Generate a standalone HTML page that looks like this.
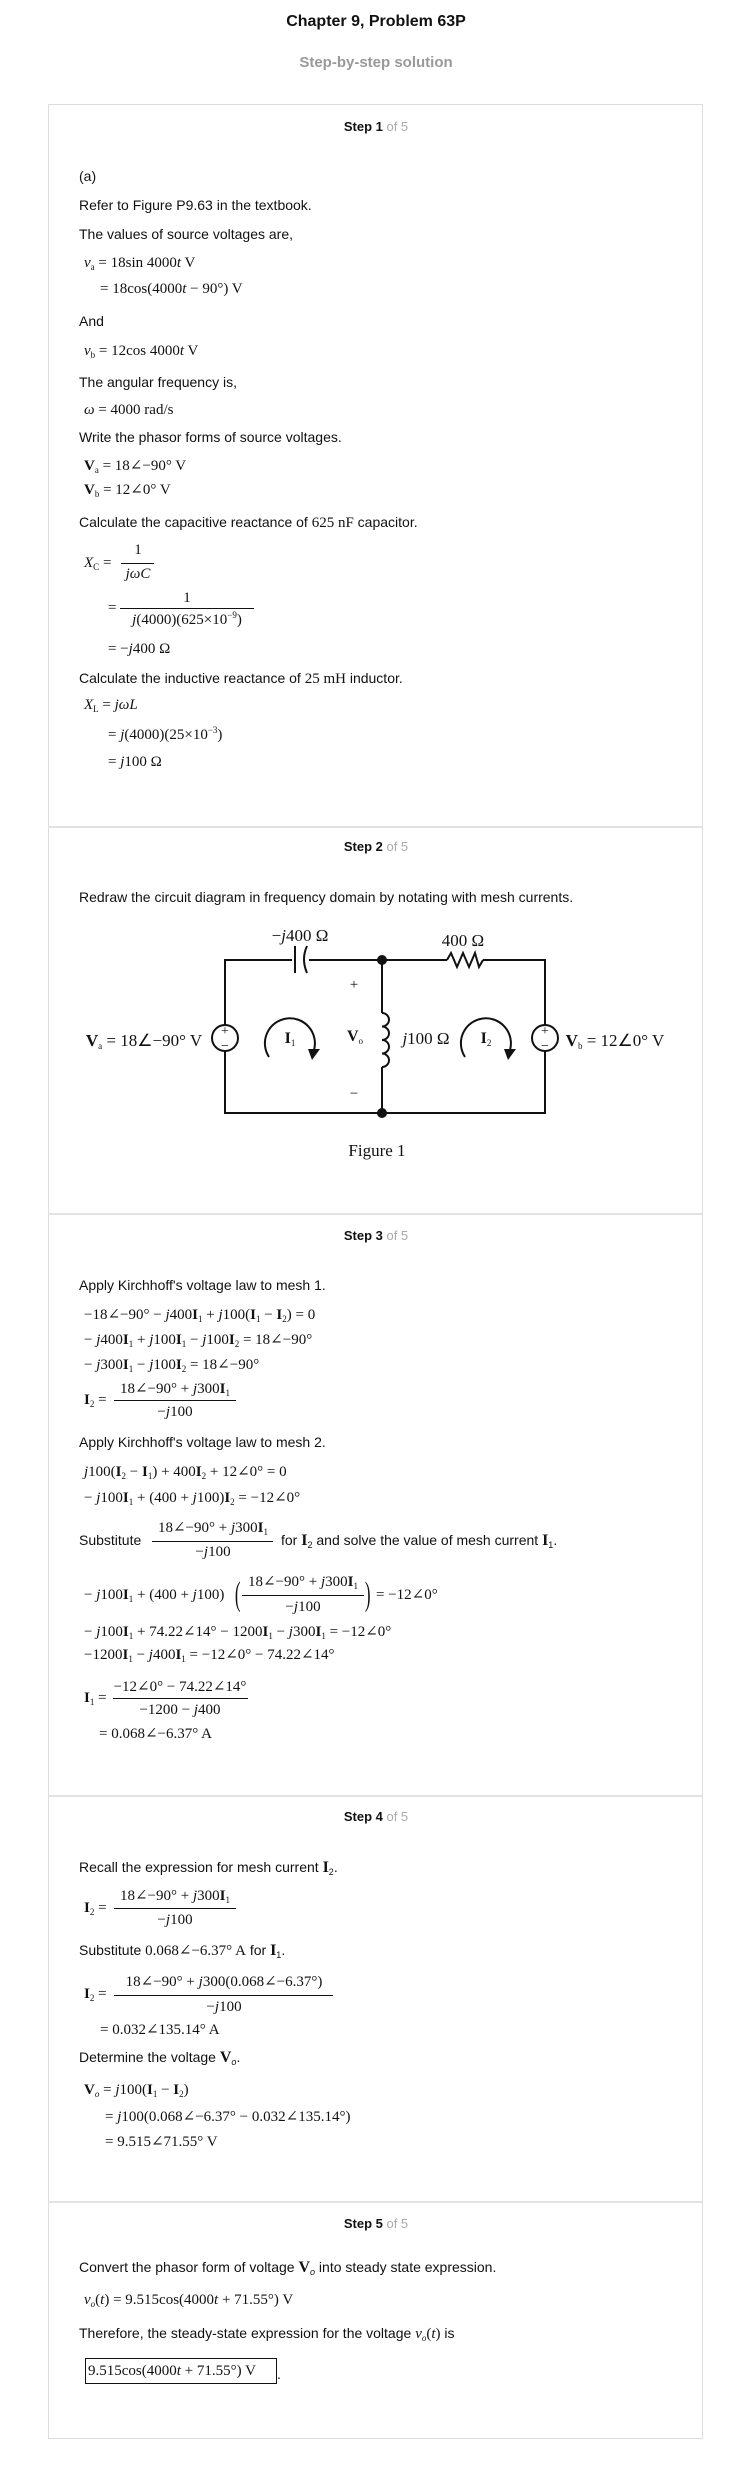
<!DOCTYPE html>
<html><head><meta charset="utf-8">
<style>
body{margin:0;background:#fff;}
#p{position:relative;width:752px;height:2466px;overflow:hidden;font-family:"Liberation Sans",Arial,sans-serif;color:#111;}
.a{position:absolute;white-space:nowrap;}
.t{font-size:14px;line-height:16px;}
.m{font-family:"Liberation Serif","DejaVu Serif",serif;font-size:15px;line-height:18px;}
.c{text-align:center;transform:translateX(-50%);}
.st{font-size:13px;font-weight:bold;line-height:16px;left:376px;}
.st span{color:#aaa;font-weight:normal;}
i{font-style:italic;}
b{font-weight:bold;}
sub{font-size:9px;vertical-align:-3px;line-height:0;}
sup{font-size:9px;vertical-align:6px;line-height:0;}
.fl{position:absolute;height:1px;background:#111;}
.div{position:absolute;left:48px;width:655px;height:2px;background:#e2e2e2;}
</style></head><body><div id="p">
<div class="a c" style="left:376px;top:12px;font-size:16px;font-weight:bold;line-height:20px;">Chapter 9, Problem 63P</div>
<div class="a c" style="left:376px;top:53px;font-size:15px;font-weight:bold;color:#999;line-height:20px;">Step-by-step solution</div>
<div class="a" style="left:48px;top:104px;width:653px;height:2333px;border:1px solid #ddd;"></div>
<div class="div" style="top:826px"></div>
<div class="div" style="top:1213px"></div>
<div class="div" style="top:1795px"></div>
<div class="div" style="top:2201px"></div>

<!-- Step 1 -->
<div class="a st c" style="top:119px">Step 1 <span>of 5</span></div>
<div class="a t" style="left:79px;top:168px">(a)</div>
<div class="a t" style="left:79px;top:197px">Refer to Figure P9.63 in the textbook.</div>
<div class="a t" style="left:79px;top:226px">The values of source voltages are,</div>
<div class="a m" style="left:84px;top:254px"><i>v</i><sub>a</sub> = 18sin 4000<i>t</i> V</div>
<div class="a m" style="left:100px;top:280px">= 18cos(4000<i>t</i> − 90°) V</div>
<div class="a t" style="left:79px;top:313px">And</div>
<div class="a m" style="left:84px;top:342px"><i>v</i><sub>b</sub> = 12cos 4000<i>t</i> V</div>
<div class="a t" style="left:79px;top:374px">The angular frequency is,</div>
<div class="a m" style="left:84px;top:401px"><i>ω</i> = 4000 rad/s</div>
<div class="a t" style="left:79px;top:429px">Write the phasor forms of source voltages.</div>
<div class="a m" style="left:84px;top:457px"><b>V</b><sub>a</sub> = 18∠−90° V</div>
<div class="a m" style="left:84px;top:481px"><b>V</b><sub>b</sub> = 12∠0° V</div>
<div class="a t" style="left:79px;top:514px">Calculate the capacitive reactance of <span class="m" style="font-size:15px">625 nF</span> capacitor.</div>
<div class="a m" style="left:84px;top:554px"><i>X</i><sub>C</sub> =</div>
<div class="a m c" style="left:138px;top:541px">1</div>
<div class="fl" style="left:121px;width:33px;top:563px"></div>
<div class="a m c" style="left:138px;top:565px"><i>jωC</i></div>
<div class="a m" style="left:108px;top:599px">=</div>
<div class="a m c" style="left:187px;top:589px">1</div>
<div class="fl" style="left:120px;width:134px;top:608px"></div>
<div class="a m c" style="left:187px;top:611px"><i>j</i>(4000)(625×10<sup>−9</sup>)</div>
<div class="a m" style="left:108px;top:640px">= −<i>j</i>400 Ω</div>
<div class="a t" style="left:79px;top:670px">Calculate the inductive reactance of <span class="m" style="font-size:15px">25 mH</span> inductor.</div>
<div class="a m" style="left:84px;top:696px"><i>X</i><sub>L</sub> = <i>jωL</i></div>
<div class="a m" style="left:108px;top:726px">= <i>j</i>(4000)(25×10<sup>−3</sup>)</div>
<div class="a m" style="left:108px;top:753px">= <i>j</i>100 Ω</div>

<!-- Step 2 -->
<div class="a st c" style="top:839px">Step 2 <span>of 5</span></div>
<div class="a t" style="left:79px;top:889px">Redraw the circuit diagram in frequency domain by notating with mesh currents.</div>
<svg class="a" style="left:0;top:0" width="752" height="1200" viewBox="0 0 752 1200">
<g fill="none" stroke="#111" stroke-width="2">
<polyline points="292,960 225,960 225,1025"/>
<polyline points="225,1051 225,1113 545,1113 545,1051"/>
<polyline points="545,1025 545,960 483,960"/>
<polyline points="447,960 309,960"/>
<line x1="295" y1="946" x2="295" y2="973"/>
<path d="M307,946 Q301,959 307,973"/>
<polyline points="447,960 451,953 457,967 463,953 469,967 475,953 479,967 483,960"/>
<line x1="382" y1="960" x2="382" y2="1013"/>
<path d="M382,1013 a7,6.75 0 0 1 0,13.5 a7,6.75 0 0 1 0,13.5 a7,6.75 0 0 1 0,13.5 a7,6.75 0 0 1 0,13.5"/>
<line x1="382" y1="1067" x2="382" y2="1113"/>
<circle cx="225" cy="1038" r="13"/>
<circle cx="545" cy="1038" r="13"/>
<path d="M269,1057 A25,25 0 1 1 314,1050"/>
<path d="M465,1057 A25,25 0 1 1 510,1050"/>
</g>
<g fill="#111">
<circle cx="382" cy="960" r="5"/>
<circle cx="382" cy="1113" r="5"/>
<polygon points="308,1049 320,1049 312,1060"/>
<polygon points="504,1049 516,1049 508,1060"/>
</g>
<g font-family="Liberation Serif,serif" font-size="15" fill="#111" text-anchor="middle">
<text x="225" y="1035" font-size="14">+</text><text x="225" y="1050" font-size="14">−</text>
<text x="545" y="1035" font-size="14">+</text><text x="545" y="1050" font-size="14">−</text>
<text x="300" y="941" font-size="17"><tspan>−</tspan><tspan font-style="italic">j</tspan>400 Ω</text>
<text x="463" y="946" font-size="17">400 Ω</text>
<text x="354" y="989" font-size="15">+</text>
<text x="354" y="1098" font-size="15">−</text>
<text x="355" y="1041" font-weight="bold" font-size="16">V<tspan font-size="9" font-weight="normal" dy="3">o</tspan></text>
<text x="426" y="1044" font-size="17"><tspan font-style="italic">j</tspan>100 Ω</text>
<text x="290" y="1043" font-weight="bold" font-size="16">I<tspan font-size="9" font-weight="normal" dy="3">1</tspan></text>
<text x="486" y="1043" font-weight="bold" font-size="16">I<tspan font-size="9" font-weight="normal" dy="3">2</tspan></text>
<text x="144" y="1046" font-size="17"><tspan font-weight="bold">V</tspan><tspan font-size="9" dy="3">a</tspan><tspan dy="-3"> = 18∠−90° V</tspan></text>
<text x="615" y="1046" font-size="17"><tspan font-weight="bold">V</tspan><tspan font-size="9" dy="3">b</tspan><tspan dy="-3"> = 12∠0° V</tspan></text>
<text x="377" y="1156" font-size="17">Figure 1</text>
</g>
</svg>

<!-- Step 3 -->
<div class="a st c" style="top:1228px">Step 3 <span>of 5</span></div>
<div class="a t" style="left:79px;top:1277px">Apply Kirchhoff's voltage law to mesh 1.</div>
<div class="a m" style="left:84px;top:1306px">−18∠−90° − <i>j</i>400<b>I</b><sub>1</sub> + <i>j</i>100(<b>I</b><sub>1</sub> − <b>I</b><sub>2</sub>) = 0</div>
<div class="a m" style="left:84px;top:1331px">− <i>j</i>400<b>I</b><sub>1</sub> + <i>j</i>100<b>I</b><sub>1</sub> − <i>j</i>100<b>I</b><sub>2</sub> = 18∠−90°</div>
<div class="a m" style="left:84px;top:1356px">− <i>j</i>300<b>I</b><sub>1</sub> − <i>j</i>100<b>I</b><sub>2</sub> = 18∠−90°</div>
<div class="a m" style="left:84px;top:1391px"><b>I</b><sub>2</sub> =</div>
<div class="a m c" style="left:175px;top:1380px">18∠−90° + <i>j</i>300<b>I</b><sub>1</sub></div>
<div class="fl" style="left:114px;width:122px;top:1400px"></div>
<div class="a m c" style="left:175px;top:1403px">−<i>j</i>100</div>
<div class="a t" style="left:79px;top:1434px">Apply Kirchhoff's voltage law to mesh 2.</div>
<div class="a m" style="left:84px;top:1463px"><i>j</i>100(<b>I</b><sub>2</sub> − <b>I</b><sub>1</sub>) + 400<b>I</b><sub>2</sub> + 12∠0° = 0</div>
<div class="a m" style="left:84px;top:1489px">− <i>j</i>100<b>I</b><sub>1</sub> + (400 + <i>j</i>100)<b>I</b><sub>2</sub> = −12∠0°</div>
<div class="a t" style="left:79px;top:1532px">Substitute</div>
<div class="a m c" style="left:213px;top:1519px">18∠−90° + <i>j</i>300<b>I</b><sub>1</sub></div>
<div class="fl" style="left:152px;width:121px;top:1541px"></div>
<div class="a m c" style="left:213px;top:1543px">−<i>j</i>100</div>
<div class="a t" style="left:281px;top:1532px">for <b class="m" style="font-size:16px">I</b><sub>2</sub> and solve the value of mesh current <b class="m" style="font-size:16px">I</b><sub>1</sub>.</div>
<div class="a m" style="left:84px;top:1586px">− <i>j</i>100<b>I</b><sub>1</sub> + (400 + <i>j</i>100)</div>
<div class="a m" style="left:232px;top:1575px;font-size:34px;line-height:40px;transform:scaleX(.5);">(</div>
<div class="a m c" style="left:303px;top:1573px">18∠−90° + <i>j</i>300<b>I</b><sub>1</sub></div>
<div class="fl" style="left:242px;width:122px;top:1595px"></div>
<div class="a m c" style="left:303px;top:1598px">−<i>j</i>100</div>
<div class="a m" style="left:362px;top:1575px;font-size:34px;line-height:40px;transform:scaleX(.5);">)</div>
<div class="a m" style="left:376px;top:1586px">= −12∠0°</div>
<div class="a m" style="left:84px;top:1623px">− <i>j</i>100<b>I</b><sub>1</sub> + 74.22∠14° − 1200<b>I</b><sub>1</sub> − <i>j</i>300<b>I</b><sub>1</sub> = −12∠0°</div>
<div class="a m" style="left:84px;top:1646px">−1200<b>I</b><sub>1</sub> − <i>j</i>400<b>I</b><sub>1</sub> = −12∠0° − 74.22∠14°</div>
<div class="a m" style="left:84px;top:1689px"><b>I</b><sub>1</sub> =</div>
<div class="a m c" style="left:180px;top:1678px">−12∠0° − 74.22∠14°</div>
<div class="fl" style="left:113px;width:135px;top:1698px"></div>
<div class="a m c" style="left:180px;top:1701px">−1200 − <i>j</i>400</div>
<div class="a m" style="left:99px;top:1725px">= 0.068∠−6.37° A</div>

<!-- Step 4 -->
<div class="a st c" style="top:1809px">Step 4 <span>of 5</span></div>
<div class="a t" style="left:79px;top:1859px">Recall the expression for mesh current <b class="m" style="font-size:16px">I</b><sub>2</sub>.</div>
<div class="a m" style="left:84px;top:1899px"><b>I</b><sub>2</sub> =</div>
<div class="a m c" style="left:175px;top:1887px">18∠−90° + <i>j</i>300<b>I</b><sub>1</sub></div>
<div class="fl" style="left:114px;width:122px;top:1908px"></div>
<div class="a m c" style="left:175px;top:1911px">−<i>j</i>100</div>
<div class="a t" style="left:79px;top:1942px">Substitute <span class="m">0.068∠−6.37° A</span> for <b class="m" style="font-size:16px">I</b><sub>1</sub>.</div>
<div class="a m" style="left:84px;top:1985px"><b>I</b><sub>2</sub> =</div>
<div class="a m c" style="left:224px;top:1973px">18∠−90° + <i>j</i>300(0.068∠−6.37°)</div>
<div class="fl" style="left:114px;width:219px;top:1995px"></div>
<div class="a m c" style="left:224px;top:1998px">−<i>j</i>100</div>
<div class="a m" style="left:100px;top:2021px">= 0.032∠135.14° A</div>
<div class="a t" style="left:79px;top:2049px">Determine the voltage <b class="m" style="font-size:16px">V</b><sub><i>o</i></sub>.</div>
<div class="a m" style="left:84px;top:2081px"><b>V</b><sub><i>o</i></sub> = <i>j</i>100(<b>I</b><sub>1</sub> − <b>I</b><sub>2</sub>)</div>
<div class="a m" style="left:105px;top:2108px">= <i>j</i>100(0.068∠−6.37° − 0.032∠135.14°)</div>
<div class="a m" style="left:105px;top:2133px">= 9.515∠71.55° V</div>

<!-- Step 5 -->
<div class="a st c" style="top:2216px">Step 5 <span>of 5</span></div>
<div class="a t" style="left:79px;top:2259px">Convert the phasor form of voltage <b class="m" style="font-size:16px">V</b><sub><i>o</i></sub> into steady state expression.</div>
<div class="a m" style="left:84px;top:2291px"><i>v</i><sub><i>o</i></sub>(<i>t</i>) = 9.515cos(4000<i>t</i> + 71.55°) V</div>
<div class="a t" style="left:79px;top:2325px">Therefore, the steady-state expression for the voltage <span class="m"><i>v</i><sub><i>o</i></sub>(<i>t</i>)</span> is</div>
<div class="a m" style="left:85px;top:2358px;width:188px;height:24px;border:1px solid #111;line-height:24px;padding-left:2px;">9.515cos(4000<i>t</i> + 71.55°) V</div>
<div class="a t" style="left:277px;top:2366px">.</div>
</div></body></html>
